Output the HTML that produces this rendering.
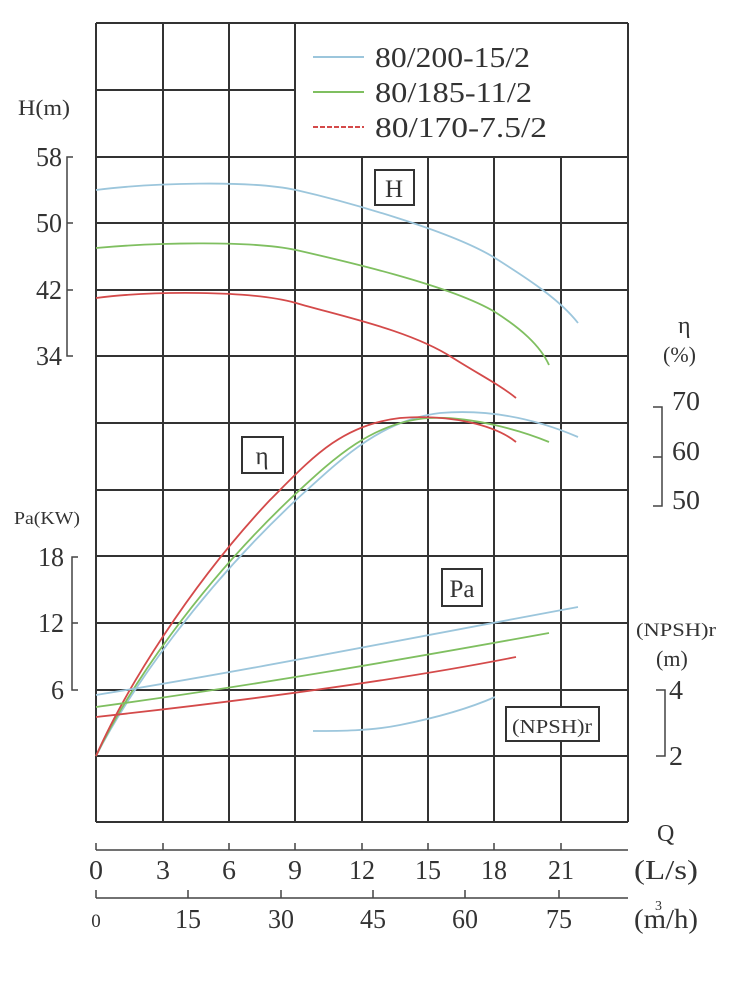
<!DOCTYPE html>
<html><head><meta charset="utf-8"><style>
html,body{margin:0;padding:0;background:#fff;}
svg{display:block;}
text{font-family:"Liberation Serif","Noto Serif CJK SC",serif;fill:#333;}
</style></head><body>
<svg width="755" height="1000" viewBox="0 0 755 1000" xmlns="http://www.w3.org/2000/svg">
<rect width="755" height="1000" fill="#fff"/>
<g stroke="#333" stroke-width="2" fill="none">
<line x1="96" y1="23" x2="628" y2="23"/>
<line x1="96" y1="90" x2="295" y2="90"/>
<line x1="96" y1="23" x2="96" y2="822"/>
<line x1="163" y1="23" x2="163" y2="822"/>
<line x1="229" y1="23" x2="229" y2="822"/>
<line x1="295" y1="23" x2="295" y2="822"/>
<line x1="362" y1="157" x2="362" y2="822"/>
<line x1="428" y1="157" x2="428" y2="822"/>
<line x1="494" y1="157" x2="494" y2="822"/>
<line x1="561" y1="157" x2="561" y2="822"/>
<line x1="628" y1="23" x2="628" y2="822"/>
<line x1="96" y1="157" x2="628" y2="157"/>
<line x1="96" y1="223" x2="628" y2="223"/>
<line x1="96" y1="290" x2="628" y2="290"/>
<line x1="96" y1="356" x2="628" y2="356"/>
<line x1="96" y1="423" x2="628" y2="423"/>
<line x1="96" y1="490" x2="628" y2="490"/>
<line x1="96" y1="556" x2="628" y2="556"/>
<line x1="96" y1="623" x2="628" y2="623"/>
<line x1="96" y1="690" x2="628" y2="690"/>
<line x1="96" y1="756" x2="628" y2="756"/>
<line x1="96" y1="822" x2="628" y2="822"/>
</g>
<g stroke="#444" stroke-width="1.5" fill="none">
<line x1="96" y1="850" x2="628" y2="850"/>
<path d="M96 843V850M163 843V850M229 843V850M295 843V850M362 843V850M428 843V850M494 843V850M561 843V850"/>
<line x1="96" y1="898" x2="628" y2="898"/>
<path d="M96 890V898M188 890V898M281 890V898M373 890V898M465 890V898M559 890V898"/>
<path d="M73 157H67V356H73M67 223H73M67 290H73"/>
<path d="M78 557H72V690H78M72 623H78"/>
<path d="M653 407H662V506H653M653 457H662"/>
<path d="M656 690H665V756H656"/>
</g>
<g font-size="27" text-anchor="end" lengthAdjust="spacingAndGlyphs">
<text x="62" y="166" textLength="26" lengthAdjust="spacingAndGlyphs">58</text>
<text x="62" y="232" textLength="26" lengthAdjust="spacingAndGlyphs">50</text>
<text x="62" y="299" textLength="26" lengthAdjust="spacingAndGlyphs">42</text>
<text x="62" y="365" textLength="26" lengthAdjust="spacingAndGlyphs">34</text>
<text x="64" y="566" textLength="26" lengthAdjust="spacingAndGlyphs">18</text>
<text x="64" y="632" textLength="26" lengthAdjust="spacingAndGlyphs">12</text>
<text x="64" y="699" textLength="13" lengthAdjust="spacingAndGlyphs">6</text>
</g>
<text x="18" y="115" font-size="22" textLength="52" lengthAdjust="spacingAndGlyphs">H(m)</text>
<text x="14" y="524" font-size="18" textLength="66" lengthAdjust="spacingAndGlyphs">Pa(KW)</text>
<g font-size="27">
<text x="672" y="410" textLength="28" lengthAdjust="spacingAndGlyphs">70</text>
<text x="672" y="460" textLength="28" lengthAdjust="spacingAndGlyphs">60</text>
<text x="672" y="509" textLength="28" lengthAdjust="spacingAndGlyphs">50</text>
<text x="669" y="699" textLength="14" lengthAdjust="spacingAndGlyphs">4</text>
<text x="669" y="765" textLength="14" lengthAdjust="spacingAndGlyphs">2</text>
</g>
<text x="678" y="333" font-size="24">η</text>
<text x="663" y="362" font-size="22">(%)</text>
<text x="636" y="636" font-size="19" textLength="80" lengthAdjust="spacingAndGlyphs">(NPSH)r</text>
<text x="656" y="666" font-size="22">(m)</text>
<text x="657" y="841" font-size="24">Q</text>
<text x="634" y="879" font-size="27" textLength="64" lengthAdjust="spacingAndGlyphs">(L/s)</text>
<text x="634" y="928" font-size="27" textLength="64" lengthAdjust="spacingAndGlyphs">(m/h)</text>
<text x="655" y="910" font-size="14">3</text>
<g font-size="27" text-anchor="middle">
<text x="96" y="879" textLength="14" lengthAdjust="spacingAndGlyphs">0</text>
<text x="163" y="879" textLength="14" lengthAdjust="spacingAndGlyphs">3</text>
<text x="229" y="879" textLength="14" lengthAdjust="spacingAndGlyphs">6</text>
<text x="295" y="879" textLength="14" lengthAdjust="spacingAndGlyphs">9</text>
<text x="362" y="879" textLength="26" lengthAdjust="spacingAndGlyphs">12</text>
<text x="428" y="879" textLength="26" lengthAdjust="spacingAndGlyphs">15</text>
<text x="494" y="879" textLength="26" lengthAdjust="spacingAndGlyphs">18</text>
<text x="561" y="879" textLength="26" lengthAdjust="spacingAndGlyphs">21</text>
<text x="96" y="927" font-size="19">0</text>
<text x="188" y="928" textLength="26" lengthAdjust="spacingAndGlyphs">15</text>
<text x="281" y="928" textLength="26" lengthAdjust="spacingAndGlyphs">30</text>
<text x="373" y="928" textLength="26" lengthAdjust="spacingAndGlyphs">45</text>
<text x="465" y="928" textLength="26" lengthAdjust="spacingAndGlyphs">60</text>
<text x="559" y="928" textLength="26" lengthAdjust="spacingAndGlyphs">75</text>
</g>
<line x1="313" y1="57" x2="364" y2="57" stroke="#9cc6dc" stroke-width="2"/>
<line x1="313" y1="92" x2="364" y2="92" stroke="#7fbf60" stroke-width="2"/>
<line x1="313" y1="127" x2="364" y2="127" stroke="#d44a4a" stroke-width="2" stroke-dasharray="5 2"/>
<g font-size="28">
<text x="375" y="67" textLength="155" lengthAdjust="spacingAndGlyphs">80/200-15/2</text>
<text x="375" y="102" textLength="157" lengthAdjust="spacingAndGlyphs">80/185-11/2</text>
<text x="375" y="137" textLength="172" lengthAdjust="spacingAndGlyphs">80/170-7.5/2</text>
</g>
<g stroke="#333" stroke-width="2" fill="#fff">
<rect x="375" y="170" width="39" height="35"/>
<rect x="242" y="437" width="41" height="36"/>
<rect x="442" y="569" width="40" height="37"/>
<rect x="506" y="707" width="93" height="34"/>
</g>
<g font-size="25" text-anchor="middle">
<text x="394" y="197">H</text><text x="262" y="464">η</text><text x="462" y="597">Pa</text>
<text x="552" y="733" font-size="20" textLength="80" lengthAdjust="spacingAndGlyphs">(NPSH)r</text>
</g>
<g fill="none" stroke-width="1.8">
<path stroke="#9cc6dc" d="M96 190 C150 183 250 180 296 190 C340 200 450 230 495 258 C530 280 560 300 578 323"/>
<path stroke="#7fbf60" d="M96 248 C150 243 250 240 296 250 C340 260 450 285 495 312 C520 328 540 345 549 365"/>
<path stroke="#d44a4a" d="M96 298 C150 291 250 290 296 303 C340 316 410 330 453 358 C480 375 500 385 516 398"/>
<path stroke="#9cc6dc" d="M96 756 C130 690 200 590 296 500 C340 460 380 420 440 413 C500 408 550 425 578 437"/>
<path stroke="#7fbf60" d="M96 756 C130 685 200 585 289 500 C330 462 370 422 429 418 C470 416 520 430 549 442"/>
<path stroke="#d44a4a" d="M96 756 C125 690 190 585 270 500 C310 460 340 425 400 418 C450 414 495 425 516 442"/>
<path stroke="#9cc6dc" d="M96 695 C250 670 400 640 578 607"/>
<path stroke="#7fbf60" d="M96 707 C250 686 400 660 549 633"/>
<path stroke="#d44a4a" d="M96 717 C250 700 400 680 516 657"/>
<path stroke="#9cc6dc" d="M313 731 C340 731 370 731 400 725 C440 717 470 708 495 697"/>
</g>
</svg>
</body></html>
